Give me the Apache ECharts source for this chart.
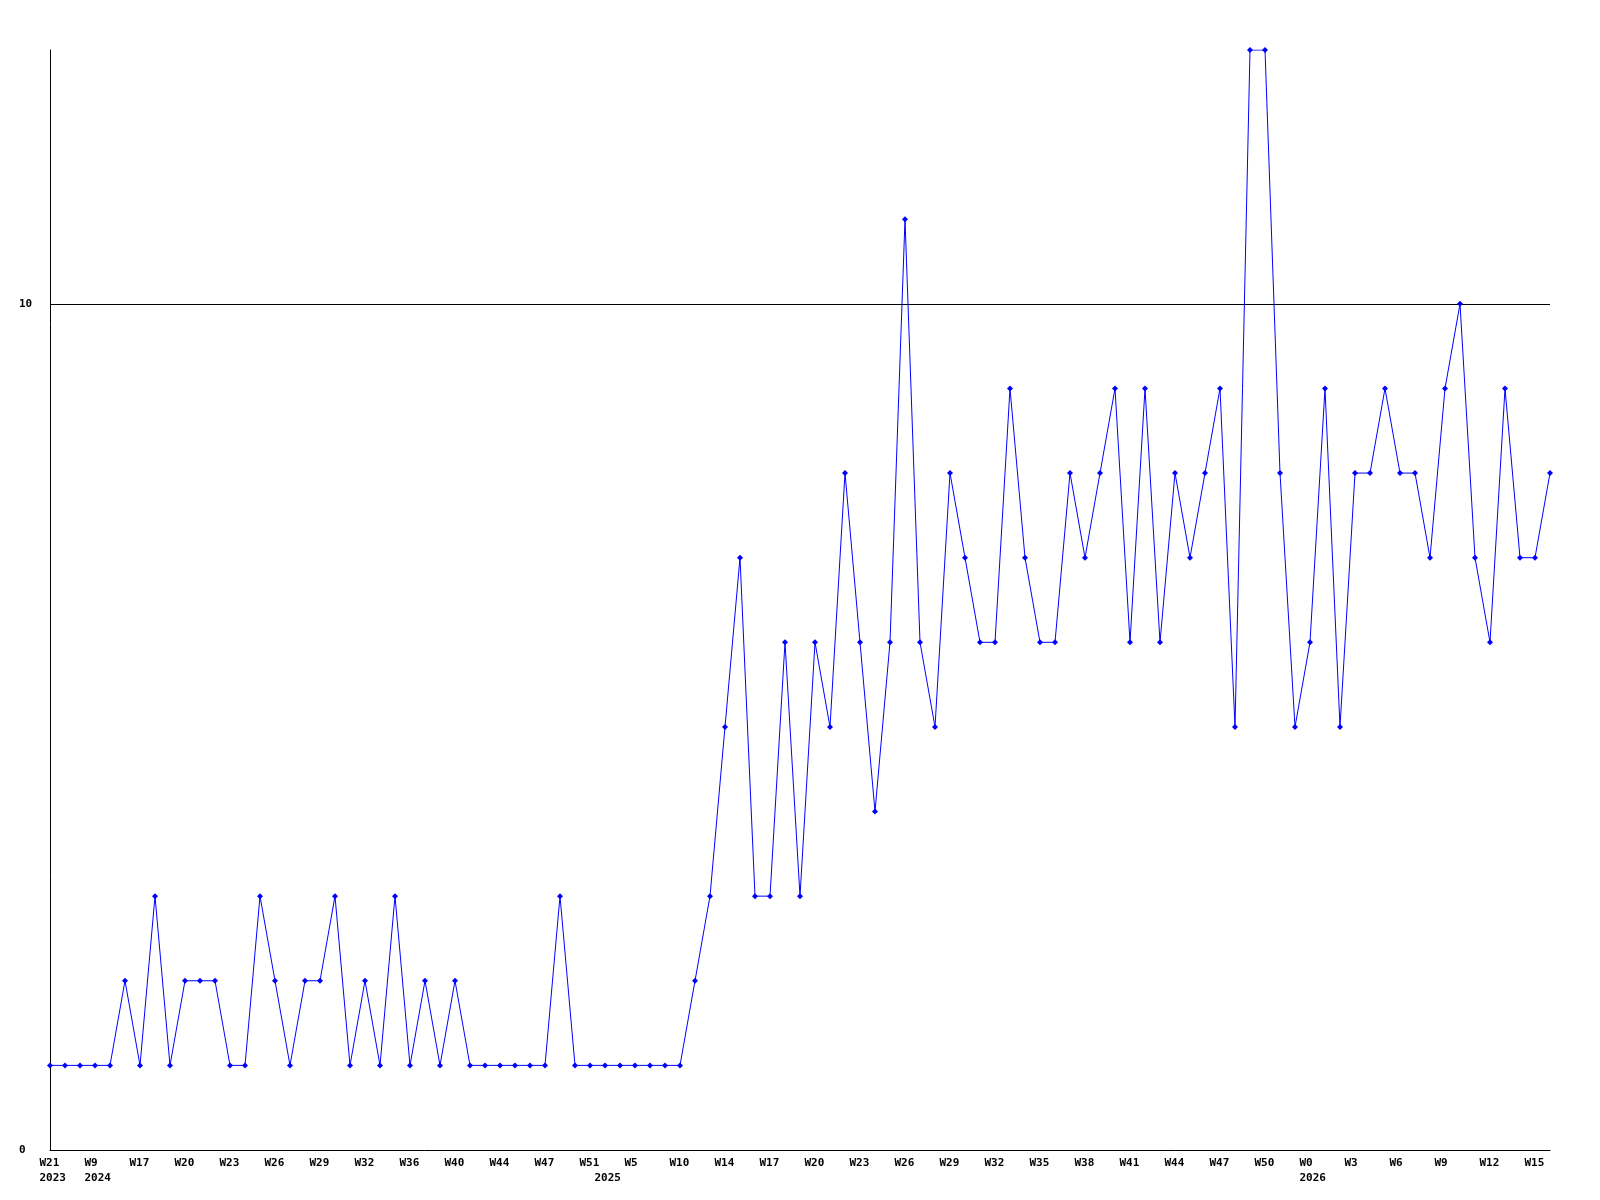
<!DOCTYPE html>
<html>
<head>
<meta charset="utf-8">
<script src="https://cdn.jsdelivr.net/npm/echarts@6/dist/echarts.min.js"></script>
<style>
html,body{margin:0;padding:0;background:#fff;}
#chart{width:1600px;height:1200px;}
</style>
</head>
<body>
<div id="chart"></div>
<script>
// Week categories (every third one is shown as a tick label)
const weeks = [
  'W21','W22','W25','W9','W12','W15','W17','W18','W19','W20',
  'W21','W22','W23','W24','W25','W26','W27','W28','W29','W30',
  'W31','W32','W34','W35','W36','W38','W39','W40','W42','W43',
  'W44','W45','W46','W47','W49','W50','W51','W1','W3','W5',
  'W7','W8','W10','W12','W13','W14','W15','W16','W17','W18',
  'W19','W20','W21','W22','W23','W24','W25','W26','W27','W28',
  'W29','W30','W31','W32','W33','W34','W35','W36','W37','W38',
  'W39','W40','W41','W42','W43','W44','W45','W46','W47','W48',
  'W49','W50','W51','W52','W0','W1','W2','W3','W4','W5',
  'W6','W7','W8','W9','W10','W11','W12','W13','W14','W15','W16'
];
// Year labels shown under the first point of each year
const yearStartIndex = [0, 3, 37, 84];
const yearNames = ['2023', '2024', '2025', '2026'];

// Series values
const counts = [
  1,1,1,1,1,2,1,3,1,2,
  2,2,1,1,3,2,1,2,2,3,
  1,2,1,3,1,2,1,2,1,1,
  1,1,1,1,3,1,1,1,1,1,
  1,1,1,2,3,5,7,3,3,6,
  3,6,5,8,6,4,6,11,6,5,
  8,7,6,6,9,7,6,6,8,7,
  8,9,6,9,6,8,7,8,9,5,
  13,13,8,5,6,9,5,8,8,9,
  8,8,7,9,10,7,6,9,7,7,8
];

// Y axis tick labels
const yTickLabels = [0, 10];
const yMax = 13;
const refLine = 10;

const font = '"DejaVu Sans Mono", "Liberation Mono", monospace';

const chart = echarts.init(document.getElementById('chart'), null, {renderer: 'canvas'});
chart.setOption({
  animation: false,
  backgroundColor: '#ffffff',
  grid: {left: 50, right: 50, top: 50, bottom: 50, containLabel: false},
  xAxis: {
    type: 'category',
    data: weeks,
    boundaryGap: false,
    axisLine: {show: true, lineStyle: {color: '#000', width: 1}},
    axisTick: {show: false},
    splitLine: {show: false},
    axisLabel: {
      interval: function (idx) {
        return idx % 3 === 0 || yearStartIndex.indexOf(idx) >= 0;
      },
      formatter: function (value, idx) {
        const w = idx % 3 === 0 ? value : '';
        const yi = yearStartIndex.indexOf(idx);
        return '{t|' + w + '}' + (yi >= 0 ? '\n{t|' + yearNames[yi] + '}' : '');
      },
      rich: {
        t: {
          width: 21,
          align: 'left',
          color: '#000',
          fontFamily: font,
          fontWeight: 'bold',
          fontSize: 11,
          lineHeight: 15
        }
      },
      color: '#000',
      fontFamily: font,
      fontWeight: 'bold',
      fontSize: 11,
      lineHeight: 15,
      margin: 6
    }
  },
  yAxis: {
    type: 'value',
    min: 0,
    max: yMax,
    interval: 10,
    axisLine: {show: true, lineStyle: {color: '#000', width: 1}},
    axisTick: {show: false},
    splitLine: {show: false},
    axisLabel: {
      formatter: function (v) {
        return yTickLabels.indexOf(v) >= 0 ? String(v) : '';
      },
      showMaxLabel: false,
      align: 'left',
      margin: 31,
      color: '#000',
      fontFamily: font,
      fontWeight: 'bold',
      fontSize: 11
    }
  },
  series: [{
    type: 'line',
    data: counts,
    symbol: 'diamond',
    symbolSize: 6,
    showAllSymbol: true,
    lineStyle: {color: '#0000ff', width: 1},
    itemStyle: {color: '#0000ff'},
    markLine: {
      silent: true,
      symbol: ['none', 'none'],
      label: {show: false},
      lineStyle: {color: '#000', width: 1, type: 'solid'},
      data: [{yAxis: refLine}],
      z: 1
    },
    z: 3
  }]
});
</script>
</body>
</html>
